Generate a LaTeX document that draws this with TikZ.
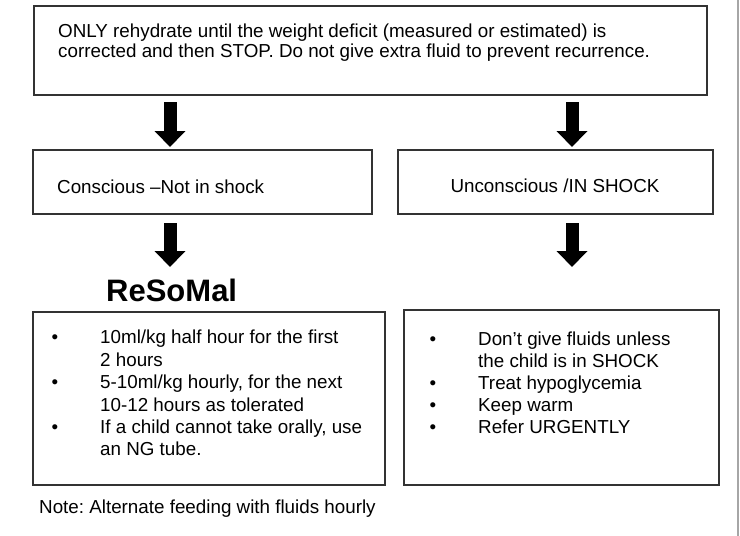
\documentclass[tikz,border=0pt]{standalone}
\usepackage{fontspec}
\setmainfont{Liberation Sans}
\usetikzlibrary{arrows.meta}
\frenchspacing
\begin{document}
\begin{tikzpicture}[x=1pt,y=-1pt,
  box/.style={draw=black!80, line width=1.2pt, rectangle, inner sep=0pt},
  txt/.style={inner sep=0pt, anchor=base west, font=\fontsize{18.8}{22}\selectfont},
  blt/.style={inner sep=0pt, anchor=base, font=\fontsize{18.8}{22}\selectfont},
  blockarrow/.style={line width=13pt, -{Triangle[width=30pt,length=16pt]}}]
\useasboundingbox (0,0) rectangle (740,536);
\fill[white] (0,0) rectangle (740,536);
\draw[black!35, line width=1.2pt] (738,0) -- (738,536);

% boxes
\node[box, minimum width=673pt, minimum height=89pt] (top) at (370.5,50.5) {};
\node[box, minimum width=339pt, minimum height=64pt] (cons) at (202.5,182) {};
\node[box, minimum width=315pt, minimum height=64pt] (uncons) at (555.5,182) {};
\node[box, minimum width=352pt, minimum height=173pt] (resbox) at (209,398.5) {};
\node[box, minimum width=315pt, minimum height=175pt] (shockbox) at (561.5,397.5) {};

% top text
\node[txt] (t1) at (58,37) {ONLY rehydrate until the weight deficit (measured or estimated) is};
\node[txt] (t2) at (58,57) {corrected and then STOP. Do not give extra fluid to prevent recurrence.};

% middle texts
\node[txt] (constxt) at (57,193) {Conscious –Not in shock};
\node[blt] (unconstxt) at (555,192) {Unconscious /IN SHOCK};

% ReSoMal
\node[inner sep=0pt, anchor=base west, font=\bfseries\fontsize{31}{36}\selectfont] (resomal) at (106,301) {ReSoMal};

% left bullets
\node[blt] (lb1) at (55,343) {•};
\node[blt] (lb2) at (55,388) {•};
\node[blt] (lb3) at (55,433) {•};
\node[txt] (l1) at (100,343) {10ml/kg half hour for the first};
\node[txt] (l2) at (100,366) {2 hours};
\node[txt] (l3) at (100,388) {5-10ml/kg hourly, for the next};
\node[txt] (l4) at (100,411) {10-12 hours as tolerated};
\node[txt] (l5) at (100,433) {If a child cannot take orally, use};
\node[txt] (l6) at (100,455) {an NG tube.};

% right bullets
\node[blt] (rb1) at (433,345) {•};
\node[blt] (rb2) at (433,389) {•};
\node[blt] (rb3) at (433,411) {•};
\node[blt] (rb4) at (433,433) {•};
\node[txt] (r1) at (478,345) {Don’t give fluids unless};
\node[txt] (r2) at (478,367) {the child is in SHOCK};
\node[txt] (r3) at (478,389) {Treat hypoglycemia};
\node[txt] (r4) at (478,411) {Keep warm};
\node[txt] (r5) at (478,433) {Refer URGENTLY};

% note
\node[txt] (note) at (39,513) {Note: Alternate feeding with fluids hourly};

% arrows
\coordinate (la1) at (170,102); \coordinate (la1e) at (170,147);
\coordinate (ra1) at (572,102); \coordinate (ra1e) at (572,147);
\coordinate (la2) at (170,223); \coordinate (la2e) at (170,267);
\coordinate (ra2) at (572,223); \coordinate (ra2e) at (572,267);
\draw[blockarrow] (la1) -- (la1e);
\draw[blockarrow] (ra1) -- (ra1e);
\draw[blockarrow] (la2) -- (la2e);
\draw[blockarrow] (ra2) -- (ra2e);
\end{tikzpicture}
\end{document}
